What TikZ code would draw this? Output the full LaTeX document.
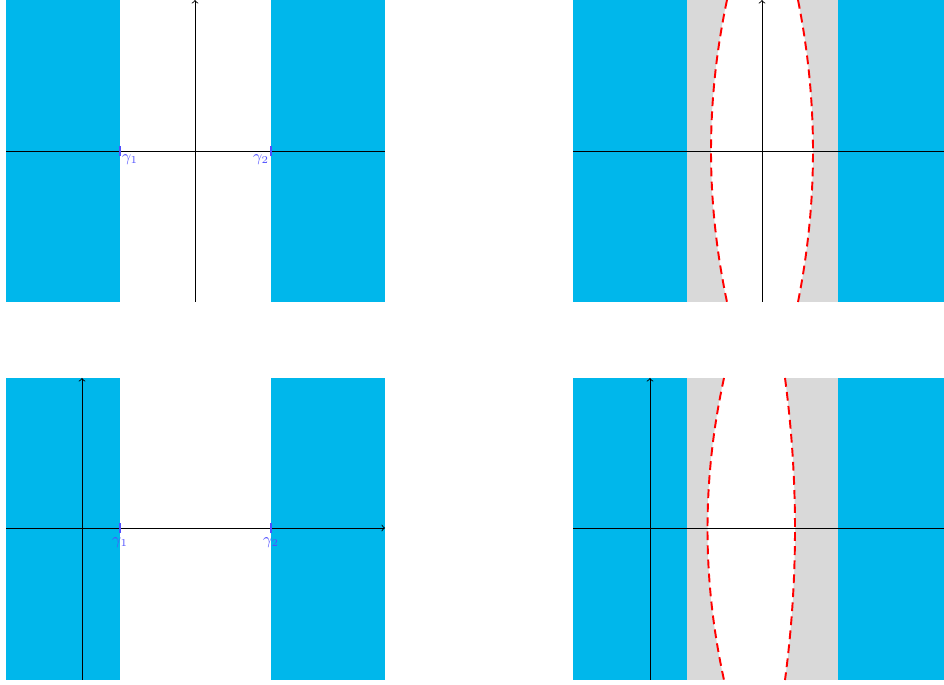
\documentclass[tikz,border=0pt]{standalone}
\definecolor{skyc}{RGB}{0,183,235}
\definecolor{greyc}{RGB}{217,217,217}
\definecolor{labc}{RGB}{80,80,255}
\tikzset{
  region/.style={fill=skyc,draw=none},
  greyreg/.style={fill=greyc,draw=none},
  axis/.style={black,line width=0.5pt},
  bound/.style={red,line width=1.1pt,dash pattern=on 5pt off 3pt},
  tickm/.style={labc,line width=0.6pt},
  glab/.style={labc,font=\small,inner sep=1pt}
}
\begin{document}
\begin{tikzpicture}[x=0.02cm,y=-0.02cm]
\useasboundingbox (0,0) rectangle (944,685);
% ---------- top left ----------
\fill[region] (6,0) rectangle (120,302);
\fill[region] (271,0) rectangle (385,302);
\coordinate (tlxl) at (6,151); \coordinate (tlxr) at (385,151);
\coordinate (tlyb) at (195,302); \coordinate (tlyt) at (195,0);
\draw[axis] (tlxl) -- (tlxr);
\draw[axis,->] (tlyb) -- (tlyt);
\coordinate (tlg1) at (120,151); \coordinate (tlg2) at (271,151);
\draw[tickm] ([yshift=-3pt]tlg1) -- ([yshift=3pt]tlg1);
\draw[tickm] ([yshift=-3pt]tlg2) -- ([yshift=3pt]tlg2);
\node[glab,anchor=north west] (tll1) at ([yshift=-1pt]tlg1) {$\gamma_1$};
\node[glab,anchor=north east] (tll2) at ([yshift=-1pt]tlg2) {$\gamma_2$};
% ---------- top right ----------
\fill[region] (573,0) rectangle (687,302);
\fill[greyreg] (687,0) rectangle (838,302);
\fill[region] (838,0) rectangle (944,302);
\coordinate (tra) at (727,0); \coordinate (trb) at (727,302);
\coordinate (trc) at (798,0); \coordinate (trd) at (798,302);
\fill[white] (tra) .. controls (705.67,100.67) and (705.67,201.33) .. (trb) -- (trd) .. controls (818,201.33) and (818,100.67) .. (trc) -- cycle;
\coordinate (trxl) at (573,151); \coordinate (trxr) at (944,151);
\coordinate (tryb) at (762,302); \coordinate (tryt) at (762,0);
\draw[axis] (trxl) -- (trxr);
\draw[axis,->] (tryb) -- (tryt);
\draw[bound] (tra) .. controls (705.67,100.67) and (705.67,201.33) .. (trb);
\draw[bound] (trc) .. controls (818,100.67) and (818,201.33) .. (trd);
% ---------- bottom left ----------
\fill[region] (6,378) rectangle (120,680);
\fill[region] (271,378) rectangle (385,680);
\coordinate (blxl) at (6,528); \coordinate (blxr) at (385,528);
\coordinate (blyb) at (82,680); \coordinate (blyt) at (82,378);
\draw[axis,->] (blxl) -- (blxr);
\draw[axis,->] (blyb) -- (blyt);
\coordinate (blg1) at (120,528); \coordinate (blg2) at (271,528);
\draw[tickm] ([yshift=-3pt]blg1) -- ([yshift=3pt]blg1);
\draw[tickm] ([yshift=-3pt]blg2) -- ([yshift=3pt]blg2);
\node[glab,anchor=north] (bll1) at ([yshift=-4.5pt]blg1) {$\gamma_1$};
\node[glab,anchor=north] (bll2) at ([yshift=-4.5pt]blg2) {$\gamma_2$};
% ---------- bottom right ----------
\fill[region] (573,378) rectangle (687,680);
\fill[greyreg] (687,378) rectangle (838,680);
\fill[region] (838,378) rectangle (944,680);
\coordinate (bra) at (724,378); \coordinate (brb) at (724,680);
\coordinate (brc) at (785,378); \coordinate (brd) at (785,680);
\fill[white] (bra) .. controls (702,478.67) and (702,579.33) .. (brb) -- (brd) .. controls (798.33,579.33) and (798.33,478.67) .. (brc) -- cycle;
\coordinate (brxl) at (573,528); \coordinate (brxr) at (944,528);
\coordinate (bryb) at (650,680); \coordinate (bryt) at (650,378);
\draw[axis] (brxl) -- (brxr);
\draw[axis,->] (bryb) -- (bryt);
\draw[bound] (bra) .. controls (702,478.67) and (702,579.33) .. (brb);
\draw[bound] (brc) .. controls (798.33,478.67) and (798.33,579.33) .. (brd);
\end{tikzpicture}
\end{document}
